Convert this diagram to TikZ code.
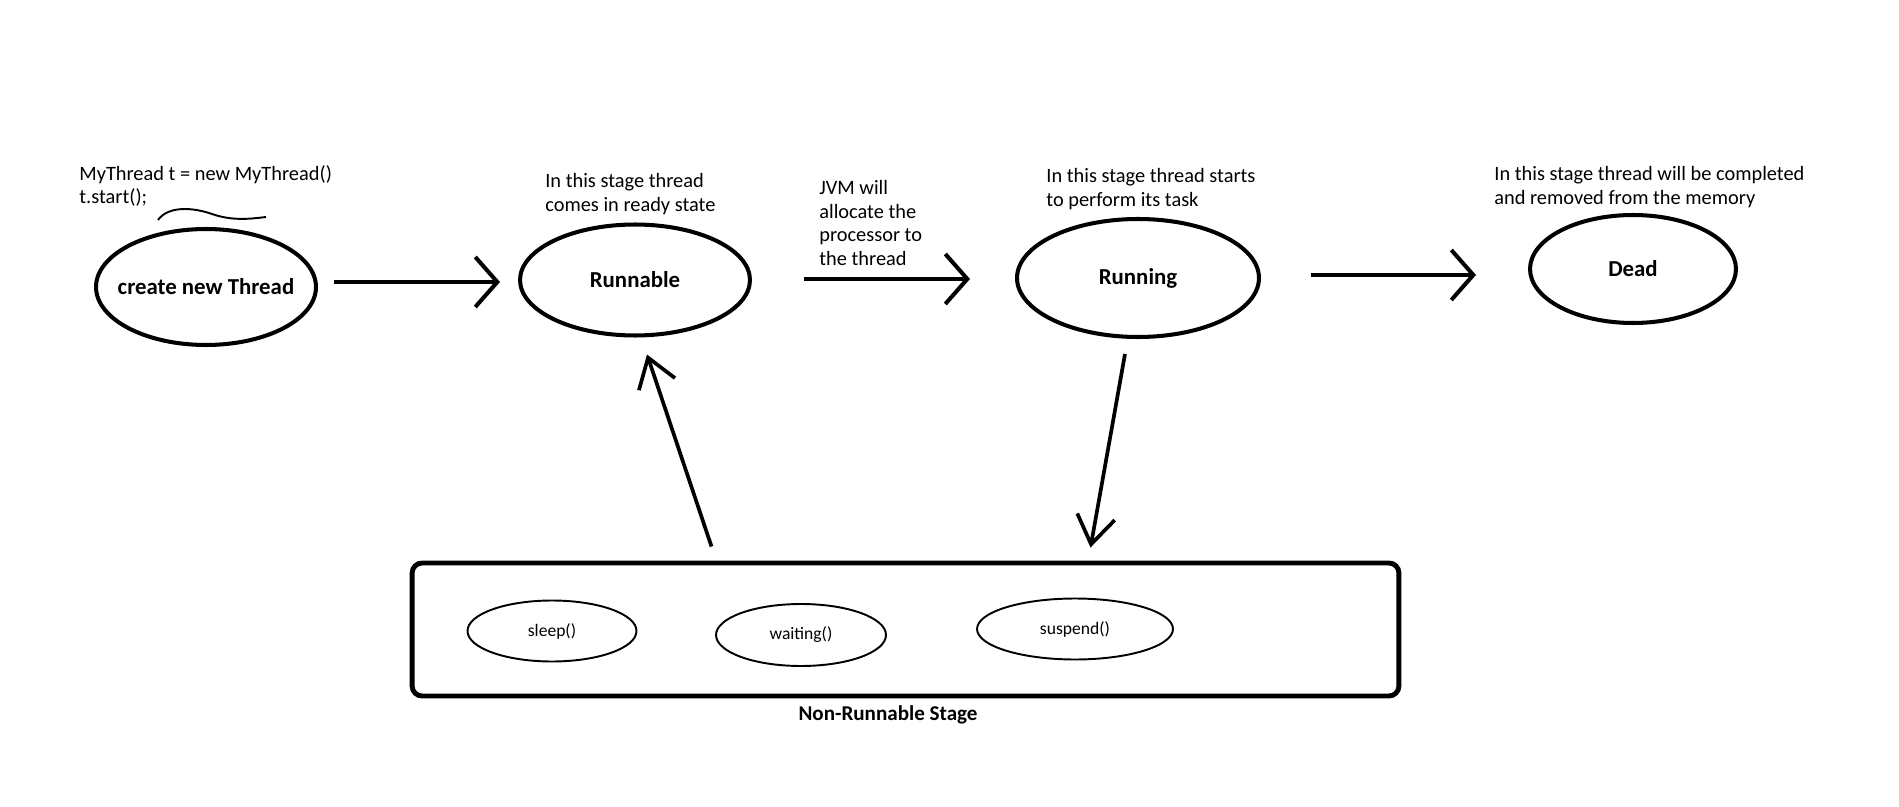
\documentclass[tikz,border=0pt]{standalone}
\usepackage{fontspec}
\setmainfont{Carlito}
\usetikzlibrary{shapes,arrows.meta,positioning,calc}

\begin{document}
\begin{tikzpicture}
[
	x=0.02cm, y=-0.02cm,
	state/.style={ellipse,draw=black,line width=2.3pt,inner sep=-0.3cm,font=\fontsize{13}{15}\selectfont\bfseries},
	method/.style={ellipse,draw=black,line width=1.1pt,inner sep=0pt,font=\fontsize{10}{12}\selectfont},
	note/.style={anchor=west,align=left,inner sep=0pt,font=\fontsize{11.6}{13.6}\selectfont},
	flow/.style={line width=2.3pt,-{Straight Barb[length=0.44cm,width=1cm]}},
	jump/.style={line width=2.1pt,-{Straight Barb[length=0.56cm,width=0.76cm]}},
]
	\fill[white] (0,0) rectangle (1899,807);
	\useasboundingbox (0,0) rectangle (1899,807);

	\begin{scope}
		\node[state,minimum width=4.4cm,minimum height=2.32cm] (create) at (206,287) {create new Thread};
		\node[state,minimum width=4.6cm,minimum height=2.22cm] (runnable) at (635,280) {Runnable};
		\node[state,minimum width=4.84cm,minimum height=2.36cm] (running) at (1138,278) {Running};
		\node[state,minimum width=4.12cm,minimum height=2.16cm] (dead) at (1633,269) {Dead};
	\end{scope}

	\begin{scope}
		\node[note] (code) at (79,186) {MyThread t = new MyThread()\\t.start();};
		\node[note] (ready) at (545,194) {In this stage thread\\comes in ready state};
		\node[note] (jvm) at (819,223) {JVM will\\allocate the\\processor to\\the thread};
		\node[note] (task) at (1046,189) {In this stage thread starts\\to perform its task};
		\node[note] (done) at (1494,187) {In this stage thread will be completed\\and removed from the memory};
		\draw[line width=1.1pt] (158,220) .. controls (168,206) and (192,207) .. (212,214) .. controls (232,221) and (250,219) .. (266,217);
	\end{scope}

	\begin{scope}
		\node[draw=black,line width=2.8pt,rounded corners=0.2cm,minimum width=19.74cm,minimum height=2.66cm] (nonrun) at (905.5,629.5) {};
		\node[method,minimum width=3.38cm,minimum height=1.22cm] (sleep) at (552,631) {sleep()};
		\node[method,minimum width=3.4cm,minimum height=1.24cm] (waiting) at (801,635) {waiting()};
		\node[method,minimum width=3.92cm,minimum height=1.22cm] (suspend) at (1075,629) {suspend()};
		\node[font=\fontsize{12}{14}\selectfont\bfseries] (stage) at (888,715) {Non-Runnable Stage};
	\end{scope}

	\draw[flow] ($(create.east)+(16,-5)$) -- ($(runnable.west)+(-18,2)$);
	\draw[flow] ($(runnable.east)+(52,-1)$) -- ($(running.west)+(-45,1)$);
	\draw[flow] ($(running.east)+(50,-3)$) -- ($(dead.west)+(-52,6)$);
	\draw[jump] ($(nonrun.north)+(-194,-14)$) -- ($(runnable.south)+(12,17)$);
	\draw[jump] ($(running.south)+(-13,15)$) -- ($(nonrun.north)+(185,-13)$);
\end{tikzpicture}
\end{document}
